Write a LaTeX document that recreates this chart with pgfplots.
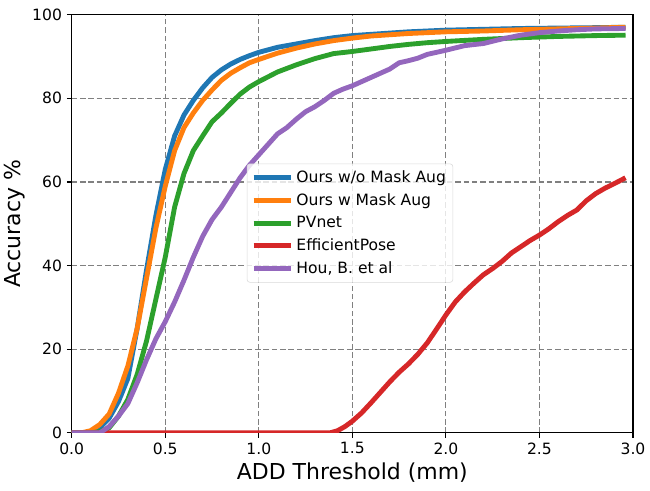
\documentclass[border=0pt]{standalone}
\usepackage{pgfplots}
\pgfplotsset{compat=1.18}
\usepackage{fontspec}
\setmainfont{DejaVu Sans}
\definecolor{tabblue}{HTML}{1F77B4}
\definecolor{taborange}{HTML}{FF7F0E}
\definecolor{tabgreen}{HTML}{2CA02C}
\definecolor{tabred}{HTML}{D62728}
\definecolor{tabpurple}{HTML}{9467BD}
\begin{document}
\begin{tikzpicture}
\begin{axis}[
  scale only axis,
  width=404pt, height=301pt,
  xmin=0, xmax=3, ymin=0, ymax=100,
  xtick={0,0.5,...,3.0},
  ytick={0,20,...,100},
  xticklabel style={/pgf/number format/.cd,fixed,fixed zerofill,precision=1},
  /pgf/number format/assume math mode=true,
  tick label style={font=\fontsize{11.2}{13}\selectfont},
  xlabel={ADD Threshold (mm)},
  ylabel={Accuracy \%},
  label style={font=\fontsize{15.8}{18}\selectfont},
  xlabel style={yshift=1pt},
  ylabel style={yshift=-2pt},
  grid=major,
  major grid style={dash pattern=on 4pt off 2pt, gray, line width=0.8pt},
  tick align=outside,
  tick pos=left,
  major tick length=3.5pt,
  axis line style={line width=0.8pt},
  every tick/.style={black, line width=0.8pt},
  legend style={at={(0.312,0.644)}, anchor=north west, font=\fontsize{11.2}{13}\selectfont,
    draw=black!15, rounded corners=2pt, fill=white, fill opacity=0.8, text opacity=1,
    row sep=2.4pt, inner sep=3pt},
  legend cell align=left,
  legend image code/.code={\draw[#1, line width=3.5pt] (0cm,0cm) -- (0.95cm,0cm);},
  every axis plot/.append style={line width=3.5pt, line join=round},
]
\addplot[tabblue] coordinates {(0,0) (0.05,0) (0.1,0.2) (0.15,1.2) (0.2,3.5) (0.25,7.5) (0.3,13) (0.35,25) (0.4,39) (0.45,52) (0.5,63) (0.55,71) (0.6,76) (0.65,79.5) (0.7,82.5) (0.75,85) (0.8,86.8) (0.85,88.2) (0.9,89.3) (0.95,90.2) (1.0,91) (1.1,92.2) (1.2,93) (1.3,93.8) (1.4,94.5) (1.5,95) (1.6,95.3) (1.7,95.6) (1.8,95.9) (1.9,96.1) (2.0,96.3) (2.2,96.5) (2.4,96.7) (2.6,96.8) (2.8,96.9) (2.96,97)};
\addlegendentry{Ours w/o Mask Aug}
\addplot[taborange] coordinates {(0,0) (0.05,0) (0.1,0.5) (0.15,2) (0.2,4.5) (0.25,9.5) (0.3,16) (0.35,25) (0.4,37) (0.45,49) (0.5,59) (0.55,67.5) (0.6,73) (0.65,76.5) (0.7,79.5) (0.75,82) (0.8,84.3) (0.85,86) (0.9,87.3) (0.95,88.5) (1.0,89.3) (1.1,90.8) (1.2,92) (1.3,93) (1.4,93.8) (1.5,94.4) (1.6,94.9) (1.7,95.2) (1.8,95.5) (1.9,95.7) (2.0,95.9) (2.2,96.1) (2.4,96.4) (2.6,96.6) (2.8,96.8) (2.96,97)};
\addlegendentry{Ours w Mask Aug}
\addplot[tabgreen] coordinates {(0,0) (0.1,0) (0.15,0.3) (0.2,1.2) (0.25,4) (0.3,8) (0.35,14) (0.4,22) (0.45,32) (0.5,42) (0.55,54) (0.6,62) (0.65,67.5) (0.7,71) (0.75,74.4) (0.8,76.5) (0.85,78.8) (0.9,81) (0.95,82.7) (1.0,84) (1.1,86.3) (1.2,88) (1.3,89.5) (1.4,90.7) (1.5,91.2) (1.6,91.8) (1.7,92.4) (1.8,92.9) (1.9,93.3) (2.0,93.6) (2.2,94.1) (2.4,94.5) (2.6,94.8) (2.8,95) (2.96,95.1)};
\addlegendentry{PVnet}
\addplot[tabred] coordinates {(0,0) (1.38,0) (1.42,0.5) (1.46,1.5) (1.5,2.8) (1.55,4.8) (1.6,7.2) (1.65,9.7) (1.7,12.2) (1.75,14.5) (1.8,16.5) (1.85,18.8) (1.9,21.5) (1.95,24.8) (2.0,28.2) (2.05,31.3) (2.1,33.7) (2.15,35.8) (2.2,37.8) (2.25,39.3) (2.3,41) (2.35,43) (2.4,44.5) (2.45,46) (2.5,47.3) (2.55,48.8) (2.6,50.5) (2.65,52) (2.7,53.3) (2.75,55.5) (2.8,57.2) (2.85,58.5) (2.9,59.6) (2.96,61)};
\addlegendentry{EfficientPose}
\addplot[tabpurple] coordinates {(0,0) (0.15,0) (0.2,1.5) (0.25,4) (0.3,7) (0.35,12) (0.4,17.5) (0.45,22.5) (0.5,26.6) (0.55,31.3) (0.6,36.5) (0.65,42) (0.7,47) (0.75,51) (0.8,54) (0.85,57.5) (0.9,61) (0.95,64) (1.0,66.5) (1.05,69) (1.1,71.5) (1.15,73) (1.2,75) (1.25,76.8) (1.3,78) (1.35,79.5) (1.4,81.2) (1.45,82.2) (1.5,83) (1.6,85) (1.7,87) (1.75,88.5) (1.8,89) (1.85,89.6) (1.9,90.5) (2.0,91.5) (2.1,92.6) (2.2,93.1) (2.3,94.2) (2.4,95.1) (2.5,95.7) (2.6,96.1) (2.7,96.4) (2.8,96.6) (2.96,96.7)};
\addlegendentry{Hou, B. et al}
\end{axis}
\path ([yshift=3pt]current bounding box.north) -- ([yshift=-3pt]current bounding box.south);
\end{tikzpicture}
\end{document}
